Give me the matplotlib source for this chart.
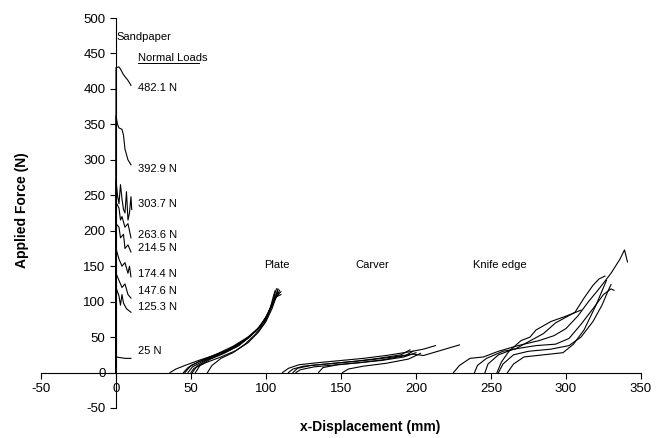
import matplotlib
matplotlib.use("Agg")
import matplotlib.pyplot as plt

plt.rcParams['font.family'] = ['Liberation Sans', 'DejaVu Sans']
plt.rcParams['axes.unicode_minus'] = False

# sandpaper runs: (label, label y, x points, y points)
sand_labels = ['482.1 N', '392.9 N', '303.7 N', '263.6 N', '214.5 N',
               '174.4 N', '147.6 N', '125.3 N', '25 N']
sand_label_y = [401, 287, 237, 194, 175, 139, 115, 92, 30]
sand_x = [
    [0, 0, 2, 3, 5, 8, 10],
    [0, 0, 1, 2, 4, 5, 6, 8, 10],
    [0, 0, 1, 2, 3, 4, 5, 6, 7, 8, 9, 10, 10.5],
    [0, 0, 2, 3, 4, 6, 8, 10],
    [0, 0, 2, 3, 5, 6, 8, 10],
    [0, 0, 2, 4, 6, 8, 9, 10],
    [0, 0, 2, 4, 6, 8, 10],
    [0, 0, 2, 3, 4, 5, 7, 10],
    [0, 0, 3, 6, 10],
]
sand_y = [
    [0, 430, 431, 428, 420, 412, 405],
    [0, 362, 350, 345, 343, 335, 315, 300, 293],
    [0, 272, 250, 238, 265, 245, 230, 225, 255, 215, 225, 248, 230],
    [0, 240, 232, 215, 220, 205, 210, 190],
    [0, 210, 205, 190, 195, 175, 180, 170],
    [0, 175, 160, 150, 155, 140, 150, 135],
    [0, 140, 130, 120, 125, 110, 105],
    [0, 120, 108, 95, 110, 98, 90, 85],
    [0, 22, 21, 20, 20],
]

plate_x = [
    [36, 40, 46, 55, 65, 75, 85, 93, 100, 104, 106, 107],
    [45, 48, 55, 65, 75, 85, 93, 99, 103, 105, 106],
    [48, 51, 58, 68, 78, 87, 95, 101, 104, 107, 108],
    [51, 54, 60, 70, 80, 89, 96, 101, 105, 108, 109],
    [53, 56, 63, 72, 82, 90, 97, 102, 106, 109, 110],
    [61, 64, 70, 78, 86, 93, 99, 103, 106, 108],
    [50, 52, 60, 70, 80, 88, 95, 100, 104, 107, 108],
    [46, 50, 58, 68, 78, 88, 95, 100, 104, 106, 110],
]
plate_y = [
    [0, 5, 10, 17, 24, 32, 45, 58, 75, 95, 112, 118],
    [0, 7, 15, 23, 32, 44, 58, 73, 92, 108, 115],
    [0, 8, 16, 25, 35, 47, 62, 80, 98, 112, 117],
    [0, 9, 17, 26, 36, 50, 65, 82, 100, 110, 116],
    [0, 10, 19, 27, 38, 52, 67, 86, 104, 112, 114],
    [0, 10, 20, 28, 40, 54, 70, 90, 105, 113],
    [0, 6, 14, 22, 31, 42, 57, 72, 90, 108, 118],
    [0, 10, 18, 27, 37, 50, 63, 78, 94, 106, 110],
]

carver_x = [
    [111, 115, 122, 135, 150, 165, 180, 195, 205, 213],
    [115, 118, 125, 140, 155, 170, 185, 198, 205, 229],
    [118, 121, 130, 145, 160, 175, 190, 196],
    [120, 123, 132, 147, 162, 177, 192, 200],
    [135, 138, 148, 163, 178, 193, 198],
    [151, 155, 165, 180, 195, 203],
]
carver_y = [
    [0, 6, 11, 14, 17, 20, 24, 29, 33, 38],
    [0, 5, 9, 12, 15, 18, 22, 26, 24, 39],
    [0, 6, 10, 13, 16, 20, 25, 32],
    [0, 4, 8, 11, 14, 17, 22, 28],
    [0, 7, 11, 14, 18, 24, 30],
    [0, 5, 9, 13, 19, 27],
]

knife_x = [
    [225, 229, 236, 245, 255, 268, 282, 292, 300, 308, 315, 322, 330, 336, 339, 341],
    [239, 241, 247, 258, 266, 272, 285, 293, 300, 306, 312, 318, 322, 326],
    [246, 248, 255, 265, 280, 293, 302, 310, 318, 325, 330, 332],
    [254, 257, 262, 270, 276, 280, 290, 298, 303, 310],
    [255, 258, 265, 275, 290, 302, 310, 318, 324, 328, 330],
    [261, 265, 272, 285, 298, 305, 312, 320, 326, 327],
]
knife_y = [
    [0, 10, 20, 22, 30, 38, 45, 52, 62, 80, 100, 118, 140, 160, 173, 156],
    [0, 10, 20, 30, 33, 40, 55, 70, 78, 85, 105, 123, 132, 136],
    [0, 12, 25, 33, 38, 40, 48, 68, 90, 110, 118, 116],
    [0, 15, 30, 45, 50, 60, 72, 78, 82, 88],
    [0, 12, 25, 30, 33, 38, 50, 72, 95, 115, 124],
    [0, 12, 22, 25, 28, 40, 60, 95, 125, 130],
]

fig = plt.figure(figsize=(6.63, 4.38), dpi=100)
ax = fig.add_axes([0.0618, 0.0685, 0.905, 0.8904])

for xs, ys in zip(sand_x, sand_y):
    ax.plot(xs, ys, color='black', lw=0.8)
for group_x, group_y in [(plate_x, plate_y), (carver_x, carver_y), (knife_x, knife_y)]:
    for xs, ys in zip(group_x, group_y):
        ax.plot(xs, ys, color='black', lw=0.8)

for lab, ly in zip(sand_labels, sand_label_y):
    ax.text(14.5, ly, lab, fontsize=8, va='center')
ax.text(0.5, 473, 'Sandpaper', fontsize=8, va='center')
ax.text(14.5, 444, 'Normal Loads', fontsize=8, va='center')
ax.plot([14.7, 55.3], [436.5, 436.5], color='black', lw=0.7)  # underline
ax.text(107, 151, 'Plate', fontsize=8, ha='center', va='center')
ax.text(171, 151, 'Carver', fontsize=8, ha='center', va='center')
ax.text(256, 151, 'Knife edge', fontsize=8, ha='center', va='center')

ax.set_xlim(-50, 350)
ax.set_ylim(-50, 500)
ax.set_xticks(range(-50, 351, 50))
ax.set_yticks(range(-50, 501, 50))
ax.spines['left'].set_position(('data', 0))
ax.spines['bottom'].set_position(('data', 0))
ax.spines['top'].set_visible(False)
ax.spines['right'].set_visible(False)
ax.tick_params(direction='out', length=4, labelsize=9.5, width=0.8)

fig.text(370 / 663, 1 - 427 / 438, 'x-Displacement (mm)', fontsize=10,
         fontweight='bold', ha='center', va='center')
fig.text(22 / 663, 1 - 210 / 438, 'Applied Force (N)', fontsize=10,
         fontweight='bold', ha='center', va='center', rotation=90)

fig.savefig('out.png', dpi=100)
